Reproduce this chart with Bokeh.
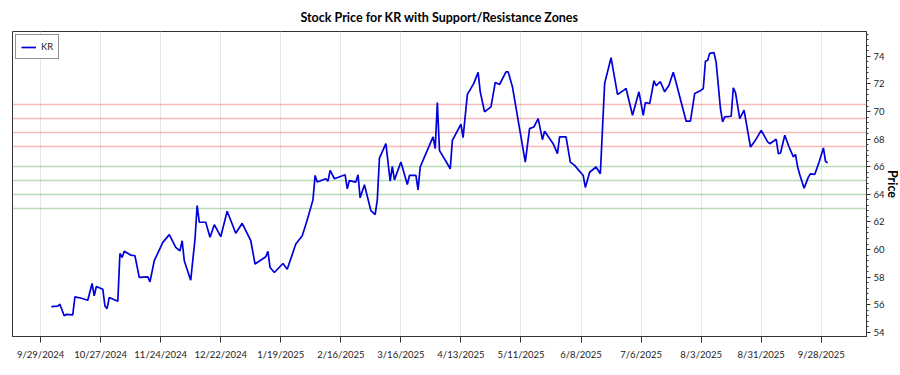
import pandas as pd
from bokeh.plotting import figure
from bokeh.models import Range1d, FixedTicker, SingleIntervalTicker, Legend, LegendItem, Title
from bokeh.embed import file_html
from bokeh.resources import INLINE

ticker_symbol = "KR"

dates = [
    "2024-10-04", "2024-10-07", "2024-10-08", "2024-10-10", "2024-10-11", "2024-10-14",
    "2024-10-15", "2024-10-18", "2024-10-21", "2024-10-23", "2024-10-24", "2024-10-25",
    "2024-10-28", "2024-10-29", "2024-10-30", "2024-10-31", "2024-11-04", "2024-11-05",
    "2024-11-06", "2024-11-07", "2024-11-10", "2024-11-12", "2024-11-14", "2024-11-18",
    "2024-11-19", "2024-11-21", "2024-11-25", "2024-11-28", "2024-12-01", "2024-12-03",
    "2024-12-04", "2024-12-05", "2024-12-08", "2024-12-10", "2024-12-11", "2024-12-12",
    "2024-12-15", "2024-12-17", "2024-12-19", "2024-12-22", "2024-12-25", "2024-12-29",
    "2025-01-01", "2025-01-05", "2025-01-07", "2025-01-12", "2025-01-13", "2025-01-14",
    "2025-01-16", "2025-01-20", "2025-01-22", "2025-01-26", "2025-01-29", "2025-01-31",
    "2025-02-03", "2025-02-04", "2025-02-05", "2025-02-09", "2025-02-10", "2025-02-11",
    "2025-02-13", "2025-02-18", "2025-02-19", "2025-02-20", "2025-02-23", "2025-02-24",
    "2025-02-25", "2025-02-27", "2025-03-02", "2025-03-04", "2025-03-05", "2025-03-06",
    "2025-03-09", "2025-03-11", "2025-03-12", "2025-03-13", "2025-03-16", "2025-03-19",
    "2025-03-20", "2025-03-23", "2025-03-24", "2025-03-25", "2025-03-27", "2025-03-31",
    "2025-04-01", "2025-04-02", "2025-04-03", "2025-04-06", "2025-04-08", "2025-04-09",
    "2025-04-13", "2025-04-14", "2025-04-16", "2025-04-19", "2025-04-21", "2025-04-22",
    "2025-04-24", "2025-04-27", "2025-04-29", "2025-05-01", "2025-05-04", "2025-05-05",
    "2025-05-07", "2025-05-09", "2025-05-13", "2025-05-15", "2025-05-17", "2025-05-19",
    "2025-05-21", "2025-05-22", "2025-05-26", "2025-05-28", "2025-05-29", "2025-06-01",
    "2025-06-03", "2025-06-05", "2025-06-09", "2025-06-10", "2025-06-12", "2025-06-15",
    "2025-06-17", "2025-06-19", "2025-06-22", "2025-06-25", "2025-06-28", "2025-06-29",
    "2025-07-02", "2025-07-05", "2025-07-07", "2025-07-08", "2025-07-10", "2025-07-12",
    "2025-07-13", "2025-07-15", "2025-07-17", "2025-07-19", "2025-07-21", "2025-07-22",
    "2025-07-27", "2025-07-29", "2025-07-31", "2025-08-03", "2025-08-04", "2025-08-05",
    "2025-08-06", "2025-08-07", "2025-08-09", "2025-08-10", "2025-08-12", "2025-08-13",
    "2025-08-14", "2025-08-17", "2025-08-18", "2025-08-19", "2025-08-21", "2025-08-23",
    "2025-08-26", "2025-08-28", "2025-08-31", "2025-09-03", "2025-09-04", "2025-09-07",
    "2025-09-08", "2025-09-09", "2025-09-11", "2025-09-13", "2025-09-15", "2025-09-16",
    "2025-09-17", "2025-09-18", "2025-09-20", "2025-09-22", "2025-09-23", "2025-09-25",
    "2025-09-27", "2025-09-29", "2025-09-30", "2025-10-01",
]

prices = [
    55.87, 55.90, 56.04, 55.20, 55.30, 55.26,
    56.57, 56.47, 56.33, 57.54, 56.64, 57.32,
    57.13, 55.91, 55.72, 56.52, 56.25, 59.72,
    59.43, 59.87, 59.60, 59.55, 57.98, 58.02,
    57.66, 59.19, 60.52, 61.08, 60.16, 59.90,
    60.64, 59.19, 57.78, 60.76, 63.19, 61.98,
    61.98, 60.89, 61.80, 60.93, 62.78, 61.18,
    61.90, 60.64, 58.95, 59.48, 59.87, 58.70,
    58.34, 58.99, 58.58, 60.40, 61.00, 61.98,
    63.60, 65.37, 64.89, 65.13, 64.96, 65.73,
    65.13, 65.42, 64.40, 65.00, 64.89, 65.42,
    63.75, 64.69, 62.82, 62.53, 63.60, 66.63,
    67.67, 64.96, 66.02, 65.05, 66.34, 64.71,
    65.37, 65.37, 64.33, 65.98, 66.71, 68.16,
    67.31, 70.65, 67.17, 66.40, 65.85, 67.91,
    69.08, 68.11, 71.24, 72.04, 72.84, 71.43,
    69.98, 70.34, 72.11, 71.96, 72.88, 72.88,
    71.80, 69.98, 66.34, 68.76, 68.88, 69.49,
    67.96, 68.57, 67.67, 66.95, 68.16, 68.16,
    66.34, 66.10, 65.37, 64.50, 65.60, 65.98,
    65.49, 72.04, 73.90, 71.24, 71.55, 71.67,
    69.73, 71.43, 69.73, 70.65, 70.58, 72.23,
    71.87, 72.16, 71.43, 71.91, 72.84, 72.28,
    69.30, 69.30, 71.31, 71.55, 71.67, 73.66,
    73.70, 74.22, 74.27, 73.56, 70.22, 69.25,
    69.61, 69.66, 71.72, 71.38, 69.49, 70.10,
    67.43, 67.84, 68.64, 67.80, 67.67, 67.99,
    66.95, 67.00, 68.28, 67.43, 66.71, 66.90,
    65.98, 65.42, 64.45, 65.25, 65.49, 65.45,
    66.34, 67.36, 66.38, 66.29,
]

resistance_levels = [70.5, 69.5, 68.5, 67.5]
support_levels = [66.0, 65.0, 64.0, 63.0]

x_tick_labels = [
    "9/29/2024", "10/27/2024", "11/24/2024", "12/22/2024", "1/19/2025", "2/16/2025",
    "3/16/2025", "4/13/2025", "5/11/2025", "6/8/2025", "7/6/2025", "8/3/2025",
    "8/31/2025", "9/28/2025",
]

FONT = "Lato"

x = pd.to_datetime(dates)
xmin, xmax = x.min(), x.max()
pad = (xmax - xmin) * 0.05
y_lo, y_hi = 53.7, 75.8

p = figure(
    width=898, height=362,
    x_axis_type="datetime", y_axis_location="right",
    x_range=Range1d(start=xmin - pad, end=xmax + pad),
    y_range=Range1d(start=y_lo, end=y_hi),
    output_backend="svg", toolbar_location=None,
    min_border_left=12, min_border_top=0, min_border_bottom=0, min_border_right=0,
)
p.background_fill_color = "white"
p.border_fill_color = "white"
p.outline_line_color = "#333333"
p.outline_line_width = 1

p.title.text = "Stock Price for KR with Support/Resistance Zones"
p.title.align = "center"
p.title.text_font = FONT
p.title.text_font_size = "12.5px"
p.title.text_font_style = "bold"
p.title.text_color = "black"
p.title.standoff = 14

# x axis
tick_ts = pd.to_datetime(x_tick_labels, format="%m/%d/%Y")
tick_ms = [int(t.value // 10**6) for t in tick_ts]
xa = p.xaxis[0]
xa.ticker = FixedTicker(ticks=tick_ms)
xa.major_label_overrides = {ms: lab for ms, lab in zip(tick_ms, x_tick_labels)}
xa.major_label_text_font = FONT
xa.major_label_text_font_size = "9.5px"
xa.major_label_text_color = "#222222"
xa.major_tick_in = 0
xa.major_tick_out = 6
xa.minor_tick_out = 0
xa.major_label_standoff = 6
xa.axis_line_color = "#333333"
xa.major_tick_line_color = "#333333"

# y axis (right)
ya = p.yaxis[0]
ya.ticker = SingleIntervalTicker(interval=2, num_minor_ticks=5)
ya.major_label_text_font = FONT
ya.major_label_text_font_size = "9.5px"
ya.major_label_text_color = "#222222"
ya.major_tick_in = 0
ya.major_tick_out = 4
ya.minor_tick_in = 0
ya.minor_tick_out = 2
ya.major_label_standoff = 3
ya.axis_line_color = "#333333"
ya.major_tick_line_color = "#333333"
ya.minor_tick_line_color = "#333333"

ytitle = Title(text="Price", align="center", text_font=FONT, text_font_size="12.5px",
               text_font_style="bold", text_color="black", standoff=-6)
p.add_layout(ytitle, "right")

p.xgrid.grid_line_color = "#e6e6e6"
p.xgrid.grid_line_width = 1
p.ygrid.grid_line_color = None

p.hspan(y=resistance_levels, line_color="#f08080", line_alpha=0.55, line_width=1.5)
p.hspan(y=support_levels, line_color="#80c080", line_alpha=0.55, line_width=1.5)

r = p.line(x, prices, line_color="#0000dd", line_width=1.7)
ghost = p.line(x, prices, line_alpha=0)

shadow = Legend(items=[LegendItem(label="\u00a0", renderers=[ghost])], location="top_left")
shadow.margin = 6
shadow.padding = 5
shadow.glyph_width = 15
shadow.glyph_height = 12
shadow.label_standoff = 5
shadow.label_height = 13
shadow.label_width = 12
shadow.label_text_font_size = "9.5px"
shadow.border_line_color = None
shadow.background_fill_color = "#9a9a9a"
shadow.background_fill_alpha = 1.0
p.add_layout(shadow)

legend = Legend(items=[LegendItem(label=ticker_symbol, renderers=[r])], location="top_left")
legend.label_text_font = FONT
legend.label_text_font_size = "9.5px"
legend.label_text_color = "#222222"
legend.border_line_color = "#222222"
legend.border_line_width = 1
legend.background_fill_color = "white"
legend.background_fill_alpha = 1.0
legend.margin = 3
legend.padding = 5
legend.glyph_width = 15
legend.glyph_height = 12
legend.label_standoff = 5
legend.label_height = 13
legend.label_width = 12
legend.spacing = 0
p.add_layout(legend)

open("out.html", "w").write(file_html(p, INLINE))
